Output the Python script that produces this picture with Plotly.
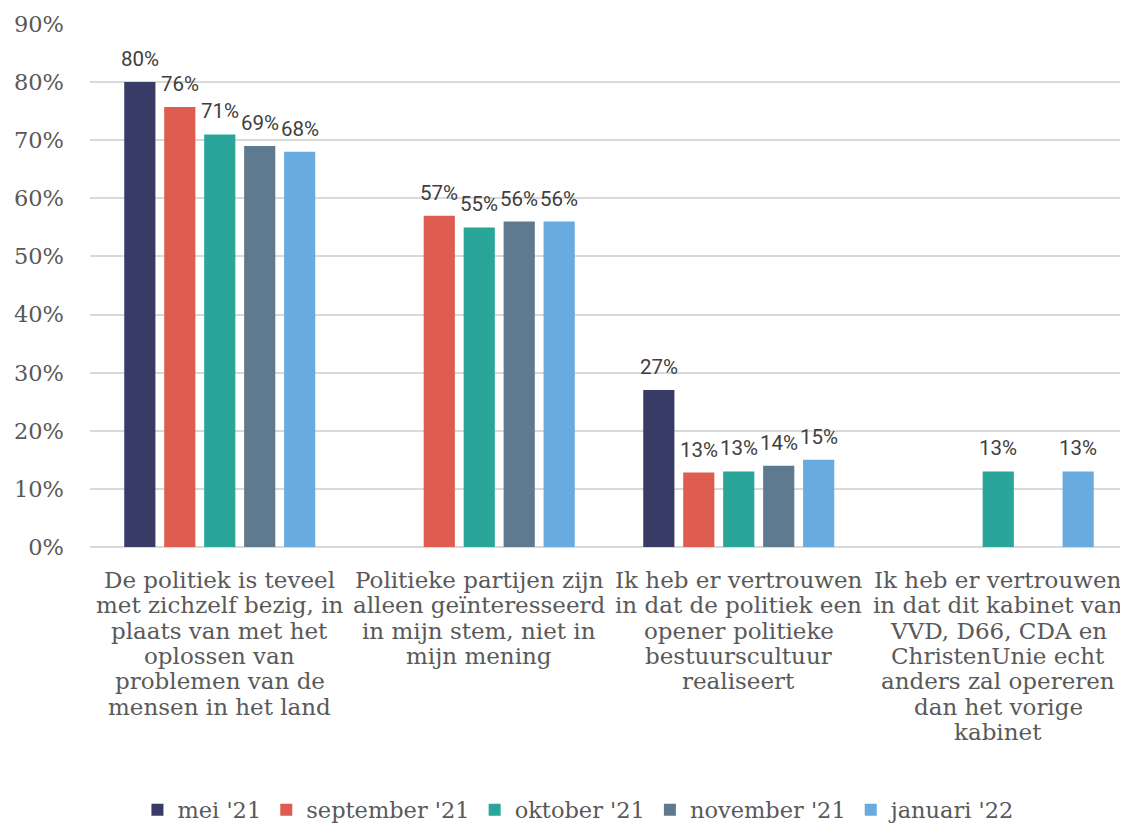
import plotly.graph_objects as go

categories = ["cat1", "cat2", "cat3", "cat4"]
category_lines = [
    ["De politiek is teveel", "met zichzelf bezig, in", "plaats van met het", "oplossen van", "problemen van de", "mensen in het land"],
    ["Politieke partijen zijn", "alleen geïnteresseerd", "in mijn stem, niet in", "mijn mening"],
    ["Ik heb er vertrouwen", "in dat de politiek een", "opener politieke", "bestuurscultuur", "realiseert"],
    ["Ik heb er vertrouwen", "in dat dit kabinet van", "VVD, D66, CDA en", "ChristenUnie echt", "anders zal opereren", "dan het vorige", "kabinet"],
]
series_names = ["mei '21", "september '21", "oktober '21", "november '21", "januari '22"]
mei_21 = [80, None, 27, None]
sep_21 = [75.7, 57, 12.8, None]
okt_21 = [71, 55, 13, 13]
nov_21 = [69, 56, 14, None]
jan_22 = [68, 56, 15, 13]
values = [mei_21, sep_21, okt_21, nov_21, jan_22]
colors = ["#383b65", "#df5c50", "#2aa59a", "#5f7a8f", "#69abdf"]

serif = "'DejaVu Serif', Georgia, serif"
# page body has an 8px default margin, so the figure is drawn 8px smaller
W, H = 1120, 817
ML, MR, MT, MB = 82, 0, 16, 278
BARGAP, GROUPGAP = 0.23, 0.22
slot_px = (W - ML - MR) / len(categories) * (1 - BARGAP) / len(series_names)

fig = go.Figure()
for name, vals, col in zip(series_names, values, colors):
    fig.add_trace(go.Bar(
        name=name, x=categories, y=vals,
        marker=dict(color=col, line=dict(width=0)),
    ))

annotations = []
for si, vals in enumerate(values):
    for ci, v in enumerate(vals):
        if v is None:
            continue
        annotations.append(dict(
            x=categories[ci], y=v, xref="x", yref="y",
            text=f"{round(v):d}%", showarrow=False,
            xshift=(si - (len(series_names) - 1) / 2) * slot_px,
            yshift=9, yanchor="bottom",
            font=dict(family="Roboto", size=20.5, color="#404040"),
        ))
for ci, lines in enumerate(category_lines):
    for li, line in enumerate(lines):
        annotations.append(dict(
            x=categories[ci], y=0, xref="x", yref="y",
            text=line, showarrow=False,
            yshift=-(33 + li * 25.3), yanchor="middle",
            font=dict(family=serif, size=23, color="#595959"),
        ))

fig.update_layout(
    width=W, height=H,
    paper_bgcolor="white", plot_bgcolor="white",
    margin=dict(l=ML, r=MR, t=MT, b=MB, autoexpand=False),
    barmode="group", bargap=BARGAP, bargroupgap=GROUPGAP,
    showlegend=True,
    legend=dict(orientation="h", x=0.472, xanchor="center", y=-0.503, yanchor="middle",
                font=dict(family=serif, size=22.5, color="#595959"),
                itemwidth=30, tracegroupgap=0, traceorder="normal"),
    annotations=annotations,
    xaxis=dict(showticklabels=False, showgrid=False, showline=False, ticks="",
               automargin=False),
    yaxis=dict(range=[0, 90], dtick=10, ticksuffix="%",
               tickfont=dict(family=serif, size=22.5, color="#595959"),
               showgrid=True, gridcolor="#d9d9d9", gridwidth=2,
               zeroline=True, zerolinecolor="#d9d9d9", zerolinewidth=2,
               ticklabelstandoff=25, automargin=False),
)
fig.write_html("out.html")
